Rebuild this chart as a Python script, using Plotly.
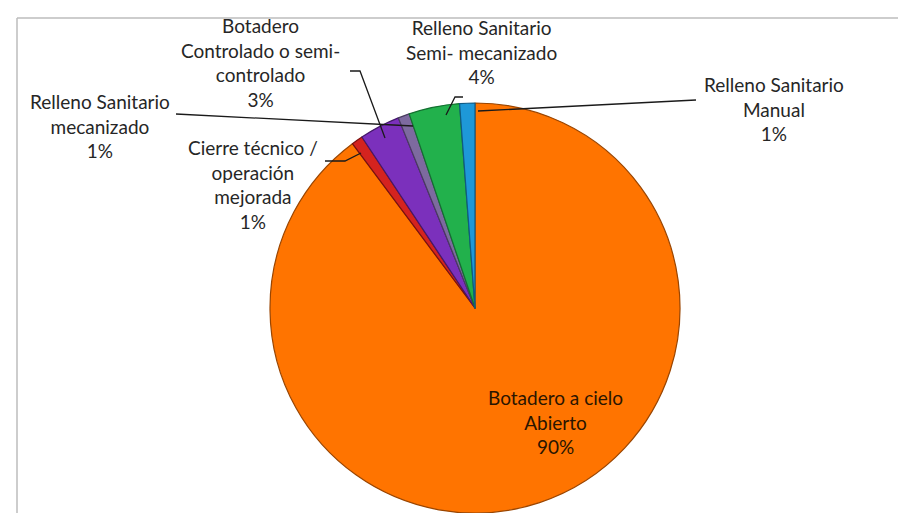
"""Pie chart: disposición final de residuos sólidos por tipo de sitio."""

import plotly.graph_objects as go

W, H = 906, 513

labels = [
    "Botadero a cielo Abierto",
    "Cierre técnico / operación mejorada",
    "Botadero Controlado o semi-controlado",
    "Relleno Sanitario mecanizado",
    "Relleno Sanitario Semi- mecanizado",
    "Relleno Sanitario Manual",
]
values = [89.8, 0.9, 3.2, 0.9, 4.0, 1.2]
label_text = [
    "Botadero a cielo<br>Abierto",
    "Cierre técnico /<br>operación<br>mejorada",
    "Botadero<br>Controlado o semi-<br>controlado",
    "Relleno Sanitario<br>mecanizado",
    "Relleno Sanitario<br>Semi- mecanizado",
    "Relleno Sanitario<br>Manual",
]
colors = ["#FF7400", "#D4231F", "#7B30BC", "#7D6A9F", "#22B14C", "#1E98D8"]
edges = ["#9A4500", "#7A1010", "#45186C", "#4A3D60", "#137030", "#0F5A85"]

# label top-centre (px) and leader polyline (px) for each slice
label_pos = [(547, 376), (245, 126), (253, 4), (92, 80), (473, 6), (766, 63)]
leaders = [
    None,
    [(317, 153), (337, 153), (353, 145)],
    [(342, 63), (352, 63), (377, 130)],
    [(168, 106), (405, 118)],
    [(455, 89), (447, 89), (438, 107)],
    [(688, 92), (470, 103)],
]


def px(x, y):
    return x / W, 1 - y / H


fig = go.Figure()
fig.add_trace(
    go.Pie(
        labels=labels,
        values=values,
        sort=False,
        direction="clockwise",
        rotation=0,
        marker={"colors": colors, "line": {"color": edges, "width": 1.2}},
        textinfo="none",
        hoverinfo="label+percent",
        showlegend=False,
        domain={"x": [262 / W, 672 / W], "y": [1 - 505 / H, 1 - 95 / H]},
    )
)

total = sum(values)
annotations = []
for i, (txt, (lx, ly)) in enumerate(zip(label_text, label_pos)):
    pct = round(values[i] / total * 100)
    ax, ay = px(lx, ly)
    annotations.append(
        dict(
            x=ax,
            y=ay,
            xref="paper",
            yref="paper",
            xanchor="center",
            yanchor="top",
            align="center",
            showarrow=False,
            text=f"{txt}<br>{pct}%",
            font={
                "family": "Lato, 'Open Sans', sans-serif",
                "size": 19,
                "color": "#2a1500" if i == 0 else "#262626",
            },
        )
    )

fx, fy = px(9, 10)
shapes = [
    # chart frame (only top and left edges fall inside the crop)
    dict(type="line", xref="paper", yref="paper", x0=fx, y0=fy, x1=1.01, y1=fy,
         line={"color": "#BDBDBD", "width": 1.5}),
    dict(type="line", xref="paper", yref="paper", x0=fx, y0=fy, x1=fx, y1=-0.01,
         line={"color": "#BDBDBD", "width": 1.5}),
]
for pts in leaders:
    if not pts:
        continue
    path = ""
    for j, (x, y) in enumerate(pts):
        qx, qy = px(x, y)
        path += ("M" if j == 0 else "L") + f" {qx} {qy} "
    shapes.append(
        dict(type="path", xref="paper", yref="paper", path=path.strip(),
             line={"color": "#1a1a1a", "width": 1.3})
    )

fig.update_layout(
    width=W,
    height=H,
    margin={"l": 0, "r": 0, "t": 0, "b": 0},
    paper_bgcolor="white",
    plot_bgcolor="white",
    annotations=annotations,
    shapes=shapes,
)

fig.write_html("out.html")
